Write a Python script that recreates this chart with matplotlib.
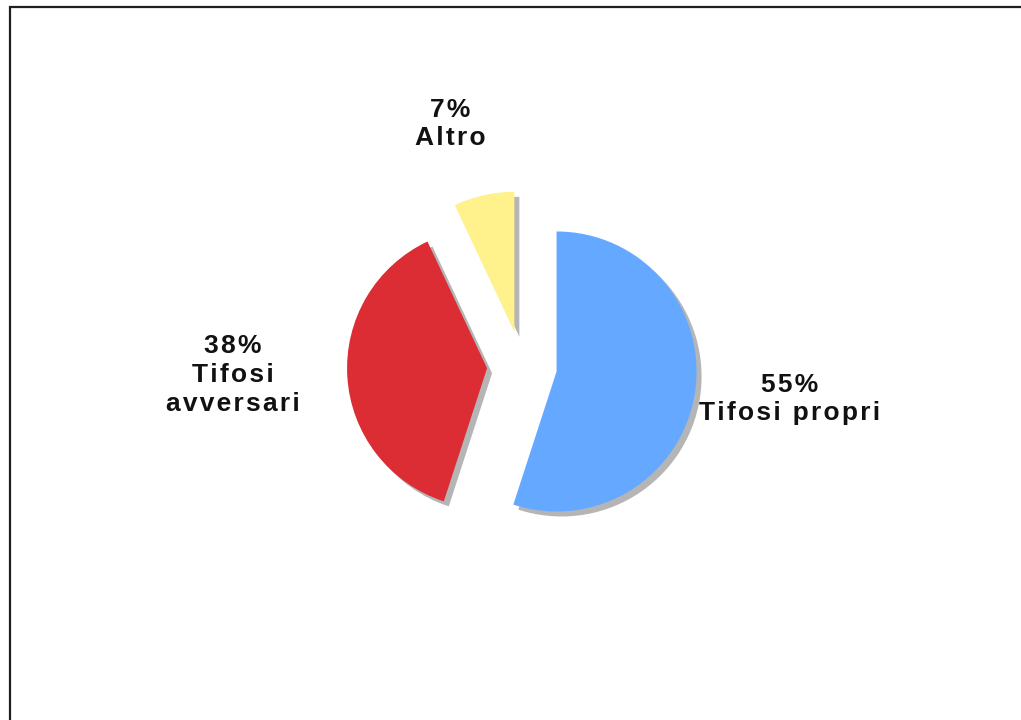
"""
Pie chart: chi sostiene la squadra (tifosi propri / avversari / altro)
"""

import matplotlib.pyplot as plt
from matplotlib.patches import Wedge

# data
categories = ['Tifosi propri', 'Tifosi avversari', 'Altro']
shares = [55, 38, 7]
colors = ['#64a9ff', '#dc2c34', '#fff28c']

W, H = 1021, 720


def spaced(s):
    # widen the tracking a little with hair spaces, like the original
    return '\n'.join('\u200a'.join(line) for line in s.split('\n'))


fig = plt.figure(figsize=(W / 100, H / 100), dpi=100)
ax = fig.add_axes([0, 0, 1, 1])

# pixel-like data units, y measured from the bottom
cx, cy, r = 522, H - 366, 140
wedges, _ = ax.pie(shares, colors=colors, startangle=90, counterclock=False,
                   center=(cx, cy), radius=r, explode=[35, 35, 35],
                   wedgeprops=dict(linewidth=0, zorder=3))

# drop shadow, offset down-right
for w in wedges:
    sh = Wedge((w.center[0] + 5, w.center[1] - 5), w.r, w.theta1, w.theta2,
               facecolor='#b5b5b5', edgecolor='none', zorder=2)
    ax.add_patch(sh)

ax.set_xlim(0, W)
ax.set_ylim(0, H)
ax.set_aspect('auto')
ax.axis('off')

# labels
font = dict(family=['Liberation Sans', 'DejaVu Sans'], fontsize=19,
            fontweight='bold', ha='center', va='center', linespacing=1.25,
            color='#111111')
ax.text(790, H - 399, spaced('%d%%\n%s' % (shares[0], categories[0])), **font)
ax.text(233, H - 375, spaced('%d%%\nTifosi\navversari' % shares[1]), **font)
ax.text(450, H - 124, spaced('%d%%\n%s' % (shares[2], categories[2])), **font)

# frame around the chart area
ax.plot([10, 10, W + 5], [-5, H - 7, H - 7], color='#1e1e1e', lw=1.6,
        solid_joinstyle='miter', clip_on=False)

fig.savefig('out.png', dpi=100, facecolor='white')
